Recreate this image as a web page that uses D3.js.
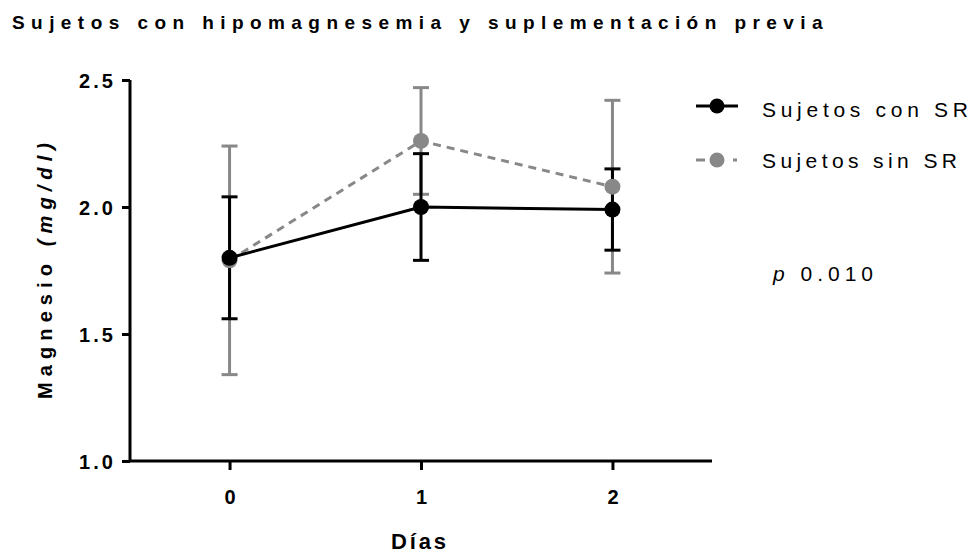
<!DOCTYPE html>
<html><head><meta charset="utf-8">
<script src="https://cdn.jsdelivr.net/npm/d3@7"></script>
<style>body{margin:0;background:#fff}svg{display:block}text{font-family:"Liberation Sans",Arial,sans-serif}</style>
</head><body>
<svg id="c" width="974" height="554"></svg>
<script>
const days = [0, 1, 2];
const xTickLabels = ["0", "1", "2"];
const yTicks = [1.0, 1.5, 2.0, 2.5];
const conSR = [1.80, 2.00, 1.99];
const conSRerr = [0.24, 0.21, 0.16];
const sinSR = [1.79, 2.26, 2.08];
const sinSRerr = [0.45, 0.21, 0.34];
const seriesNames = ["Sujetos con SR", "Sujetos sin SR"];
const titleText = "Sujetos con hipomagnesemia  y suplementación previa";

const FONT = '"Liberation Sans",Arial,sans-serif';
const svg = d3.select("#c");
const x = d3.scaleLinear().domain([-0.52, 2.52]).range([130, 712]);
const y = d3.scaleLinear().domain([1.0, 2.5]).range([461, 80]);

// spread a text element between x0 and x1 (local coords) with letter-spacing
function fit(t, x0, x1) {
  t.attr("x", x0).attr("text-anchor", "start").style("letter-spacing", "0px");
  const node = t.node();
  const nat = node.getComputedTextLength();
  const n = node.textContent.length;
  const ls = (x1 - x0 - nat) / (n - 1);
  t.style("letter-spacing", ls + "px");
  return t;
}

// axes
const yAxis = d3.axisLeft(y).tickValues(yTicks).tickFormat(d3.format(".1f")).tickSize(8).tickPadding(8);
const gy = svg.append("g").attr("transform", "translate(130,0)").call(yAxis);
const xAxis = d3.axisBottom(x).tickValues(days).tickFormat((d,i)=>xTickLabels[i]).tickSize(9).tickPadding(12);
const gx = svg.append("g").attr("transform", "translate(0,461)").call(xAxis);
[gy, gx].forEach(g => {
  g.select(".domain").attr("stroke", "#000").attr("stroke-width", 3);
  g.selectAll(".tick line").attr("stroke", "#000").attr("stroke-width", 3);
  g.selectAll(".tick text").attr("fill", "#000").attr("font-size", 20).attr("font-weight", "bold")
    .attr("font-family", FONT);
});
gy.select(".domain").attr("d", "M0,461V80");
gx.select(".domain").attr("d", "M130,0H712");
gy.selectAll(".tick text").attr("dy", null).attr("y", 7).each(function(){ fit(d3.select(this), -51, -17); });
gx.selectAll(".tick text").attr("dy", null).attr("y", 43);

const series = [
  {vals: sinSR, err: sinSRerr, color: "#888888", dash: "8,6"},
  {vals: conSR, err: conSRerr, color: "#000000", dash: null}
];
const line = d3.line().x((d,i)=>x(days[i])).y(d=>y(d));

series.forEach(s => {
  const g = svg.append("g");
  days.forEach((d,i) => {
    const lo = y(s.vals[i]-s.err[i]), hi = y(s.vals[i]+s.err[i]), cx = x(d);
    g.append("line").attr("x1",cx).attr("x2",cx).attr("y1",lo).attr("y2",hi).attr("stroke",s.color).attr("stroke-width",3);
    [lo,hi].forEach(yy => g.append("line").attr("x1",cx-8).attr("x2",cx+8).attr("y1",yy).attr("y2",yy).attr("stroke",s.color).attr("stroke-width",3));
  });
});
series.forEach(s => {
  svg.append("path").datum(s.vals).attr("d", line).attr("fill","none").attr("stroke",s.color)
    .attr("stroke-width",3).attr("stroke-dasharray", s.dash);
  svg.append("g").selectAll("circle").data(s.vals).join("circle")
    .attr("cx",(d,i)=>x(days[i])).attr("cy",d=>y(d)).attr("r",8).attr("fill",s.color);
});

// title
fit(svg.append("text").attr("y",29).attr("font-size",19).attr("font-weight","bold").text(titleText), 12, 829);

// y title
const yt = svg.append("text").attr("transform","translate(52,0) rotate(-90)")
  .attr("y",0).attr("font-size",20).attr("font-weight","bold");
yt.append("tspan").text("Magnesio ");
yt.append("tspan").attr("font-style","italic").text("(mg/dl)");
fit(yt, -399, -143);

// x title
fit(svg.append("text").attr("y",549).attr("font-size",22).attr("font-weight","bold").text("Días"), 391, 446);

// legend
const leg = [
  {name: seriesNames[0], color:"#000", dash:null, yy:106, tx1:968},
  {name: seriesNames[1], color:"#888", dash:"9,28,4,100", yy:160, tx1:957}
];
leg.forEach(l => {
  svg.append("line").attr("x1",696).attr("x2",738).attr("y1",l.yy).attr("y2",l.yy).attr("stroke",l.color)
    .attr("stroke-width",3).attr("stroke-dasharray", l.dash);
  svg.append("circle").attr("cx",717).attr("cy",l.yy).attr("r",7.5).attr("fill",l.color);
  fit(svg.append("text").attr("y",l.yy+ (l.yy===106?11:8)).attr("font-size",21).attr("fill","#000").text(l.name), 762, l.tx1);
});
const pt = svg.append("text").attr("y",281).attr("font-size",21);
pt.append("tspan").attr("font-style","italic").text("p");
pt.append("tspan").text(" 0.010");
fit(pt, 773, 873);
</script>
</body></html>
